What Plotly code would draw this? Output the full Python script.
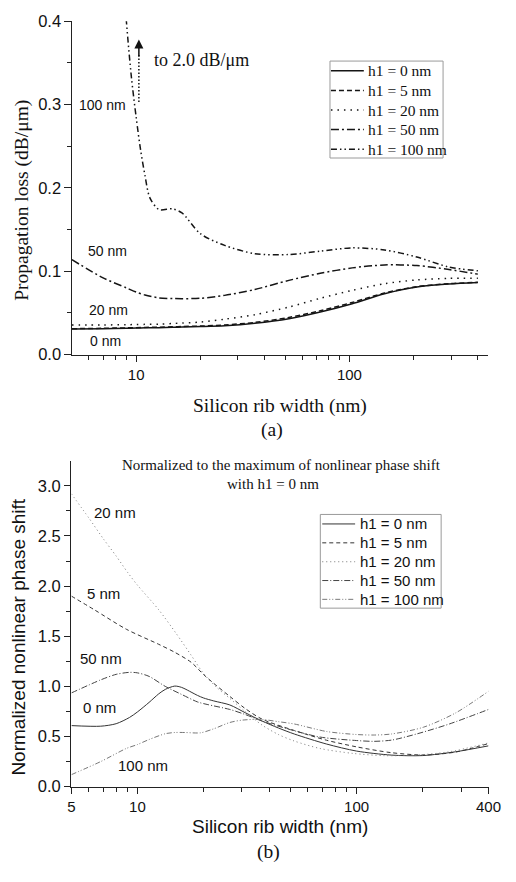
import math
import plotly.graph_objects as go

# page is 516x882 and the body has the default 8px margin -> figure placed at (8, 8)
PAGE_W, PAGE_H = 516, 882
OFF = 8
WF, HF = PAGE_W - OFF, PAGE_H - 2 * OFF   # figure may reach the right page edge
SERIF = "Liberation Serif"
SANS = "Liberation Sans"

# ---------------- (a) Propagation loss ----------------
NAMES = ["h1 = 0 nm", "h1 = 5 nm", "h1 = 20 nm", "h1 = 50 nm", "h1 = 100 nm"]

XA = [5, 7, 9, 10, 11, 12.8, 14.8, 16.4, 20, 26, 36, 52, 73, 103, 146, 207, 293, 400]
LOSS_0 = [0.0306, 0.031, 0.0315, 0.0318, 0.032, 0.0322, 0.0326, 0.033, 0.0335, 0.0345,
          0.0375, 0.043, 0.051, 0.061, 0.0729, 0.081, 0.0846, 0.0864]
LOSS_5 = [0.031, 0.0315, 0.032, 0.0322, 0.0325, 0.0328, 0.0332, 0.0336, 0.0342, 0.0355,
          0.0385, 0.0445, 0.0525, 0.0625, 0.0738, 0.0815, 0.085, 0.0866]
LOSS_20 = [0.0353, 0.0355, 0.0358, 0.036, 0.0362, 0.0365, 0.0372, 0.0378, 0.039, 0.0424,
           0.0478, 0.057, 0.0675, 0.077, 0.085, 0.0895, 0.0914, 0.0914]
LOSS_50 = [0.1138, 0.092, 0.080, 0.075, 0.0715, 0.068, 0.0672, 0.067, 0.0675, 0.071,
           0.078, 0.089, 0.0975, 0.104, 0.1075, 0.1068, 0.102, 0.0965]
XA_100 = [5, 6, 7, 8, 9, 9.5, 10, 10.5, 11, 11.6, 12.8, 14.8, 16.4, 20, 26, 36, 52, 73,
          103, 146, 207, 293, 400]
LOSS_100 = [2.0, 1.3, 0.85, 0.58, 0.40, 0.333, 0.285, 0.245, 0.215, 0.188, 0.174, 0.1748,
            0.170, 0.145, 0.131, 0.121, 0.120, 0.124, 0.128, 0.1255, 0.117, 0.105, 0.1005]

# ---------------- (b) Normalized nonlinear phase shift ----------------
XB_0 = [5, 6.8, 8, 9.2, 10, 11.3, 12.5, 13.4, 14.8, 15.9, 18.8, 20, 22.3, 26.4, 31.2, 37,
        44, 52, 73, 100, 144, 200, 283, 400]
PHASE_0 = [0.609, 0.603, 0.628, 0.69, 0.745, 0.84, 0.925, 0.97, 1.003, 0.99, 0.91, 0.885,
           0.855, 0.815, 0.735, 0.655, 0.585, 0.525, 0.425, 0.355, 0.315, 0.31, 0.348, 0.407]
XB_5 = [5, 6.35, 8.9, 12.5, 14.8, 17.6, 20, 22.3, 26.4, 31, 37, 52, 73, 100, 144, 202, 283, 400]
PHASE_5 = [1.90, 1.765, 1.57, 1.42, 1.34, 1.24, 1.12, 1.03, 0.90, 0.78, 0.674, 0.56, 0.463,
           0.397, 0.339, 0.316, 0.345, 0.43]
XB_20 = [5, 6, 7, 8, 9, 10, 12.5, 15, 17.6, 20, 23, 26.4, 31, 37, 44, 52, 68, 96, 134, 189,
         265, 400]
PHASE_20 = [2.92, 2.68, 2.47, 2.30, 2.14, 2.01, 1.765, 1.53, 1.31, 1.13, 0.99, 0.88, 0.75,
            0.615, 0.52, 0.455, 0.381, 0.332, 0.309, 0.316, 0.348, 0.436]
XB_50 = [5, 6.8, 8, 9.2, 10, 11.3, 13.4, 15.9, 18.8, 20.8, 26.4, 31, 37, 48.5, 68, 100, 120,
         145, 189, 265, 400]
PHASE_50 = [0.935, 1.065, 1.12, 1.14, 1.135, 1.10, 1.0, 0.92, 0.845, 0.82, 0.77, 0.72, 0.655,
            0.576, 0.495, 0.46, 0.452, 0.465, 0.527, 0.625, 0.77]
XB_100 = [5, 6.8, 8.9, 10, 11.3, 13.4, 14.8, 16.5, 19.4, 22.3, 26.4, 30.2, 37, 44, 52, 73,
          100, 121, 144, 202, 283, 400]
PHASE_100 = [0.12, 0.25, 0.381, 0.42, 0.47, 0.528, 0.54, 0.54, 0.537, 0.577, 0.64, 0.664,
             0.67, 0.648, 0.625, 0.55, 0.52, 0.515, 0.525, 0.593, 0.735, 0.951]

XTICKS_A = [10, 100]
XTICKS_B = [5, 10, 100, 400]
XMINOR = [6, 7, 8, 9, 20, 30, 40, 50, 60, 70, 80, 90, 200, 300, 400]
YTICKS_A = [0.0, 0.1, 0.2, 0.3, 0.4]
YMINOR_A = [0.05, 0.15, 0.25, 0.35]
YTICKS_B = [0.0, 0.5, 1.0, 1.5, 2.0, 2.5, 3.0]
YMINOR_B = [0.25, 0.75, 1.25, 1.75, 2.25, 2.75]

DASH_A = ["solid", "5px,3px", "1.5px,5px", "8px,3px,2px,3px", "6px,3px,1.5px,3px,1.5px,3px"]
DASH_B = ["solid", "4px,3px", "1px,3px", "6px,2px,1px,2px", "5px,2px,1px,2px,1px,2px"]
COL_A = "#151515"
COL_B = ["#333333", "#333333", "#777777", "#444444", "#777777"]


def px(x):
    """page pixel x -> paper fraction"""
    return (x - OFF) / WF


def py(y):
    """page pixel y (from top) -> paper fraction"""
    return 1 - (y - OFF) / HF


fig = go.Figure()

top_x = [XA, XA, XA, XA, XA_100]
top_y = [LOSS_0, LOSS_5, LOSS_20, LOSS_50, LOSS_100]
for i in range(5):
    fig.add_trace(go.Scatter(
        x=top_x[i], y=top_y[i], name=NAMES[i], mode="lines", showlegend=False,
        line=dict(color=COL_A, width=1.5, dash=DASH_A[i], shape="spline", smoothing=0.8),
        xaxis="x", yaxis="y"))

bot_x = [XB_0, XB_5, XB_20, XB_50, XB_100]
bot_y = [PHASE_0, PHASE_5, PHASE_20, PHASE_50, PHASE_100]
for i in range(5):
    fig.add_trace(go.Scatter(
        x=bot_x[i], y=bot_y[i], name=NAMES[i], mode="lines", showlegend=False,
        line=dict(color=COL_B[i], width=1, dash=DASH_B[i], shape="spline", smoothing=0.8),
        xaxis="x2", yaxis="y2"))

# dotted arrow shaft
ARROW_X = 10.3
fig.add_trace(go.Scatter(x=[ARROW_X, ARROW_X], y=[0.303, 0.362], mode="lines",
                         line=dict(color="#111", width=1.5, dash="1.5px,2px"),
                         showlegend=False, hoverinfo="skip", xaxis="x", yaxis="y"))

axis_common = dict(showline=True, linecolor="#222", linewidth=1, ticks="outside",
                   ticklen=6.5, tickwidth=1, tickcolor="#222", showgrid=False, zeroline=False,
                   ticklabeloverflow="allow")
xfont = dict(family=SANS, size=15, color="#111")
yfont = dict(family=SANS, size=16.5, color="#111")
minor_common = dict(tickmode="array", ticks="outside", ticklen=4, tickwidth=1, tickcolor="#222")

fig.update_layout(
    width=WF, height=HF, margin=dict(l=0, r=0, t=0, b=0),
    paper_bgcolor="white", plot_bgcolor="white", showlegend=False,
    xaxis=dict(axis_common, type="log", domain=[px(70), px(500)], tickfont=xfont,
               range=[math.log10(5), math.log10(444)], anchor="y",
               tickmode="array", tickvals=XTICKS_A, ticktext=[str(v) for v in XTICKS_A],
               minor=dict(minor_common, tickvals=XMINOR)),
    yaxis=dict(axis_common, domain=[py(352.7), py(12.3)], range=[0, 0.4], anchor="x",
               tickfont=yfont,
               tickmode="array", tickvals=YTICKS_A, ticktext=[f"{v:.1f}" for v in YTICKS_A],
               minor=dict(minor_common, tickvals=YMINOR_A)),
    xaxis2=dict(axis_common, type="log", domain=[px(69.5), px(501)], tickfont=xfont,
                range=[math.log10(5), math.log10(400)], anchor="y2",
                tickmode="array", tickvals=XTICKS_B, ticktext=[str(v) for v in XTICKS_B],
                minor=dict(minor_common, tickvals=XMINOR)),
    yaxis2=dict(axis_common, domain=[py(794), py(461.7)], range=[0, 3.245], anchor="x2",
                tickfont=yfont,
                tickmode="array", tickvals=YTICKS_B, ticktext=[f"{v:.1f}" for v in YTICKS_B],
                minor=dict(minor_common, tickvals=YMINOR_B)),
)

ann = []
shapes = []


def text(t, x, y, size, family, angle=0, xanchor="center", color="#111"):
    ann.append(dict(text=t, x=px(x), y=py(y), xref="paper", yref="paper", showarrow=False,
                    xanchor=xanchor, yanchor="middle", textangle=angle,
                    font=dict(family=family, size=size, color=color)))


def legend_box(x0, y0, x1, y1, rows, samp0, samp1, text_x, dashes, colors, width,
               family, size):
    shapes.append(dict(type="rect", xref="paper", yref="paper", x0=px(x0), x1=px(x1),
                       y0=py(y1), y1=py(y0), line=dict(color="#9a9a9a", width=1),
                       fillcolor="white", layer="above"))
    for i, ry in enumerate(rows):
        shapes.append(dict(type="line", xref="paper", yref="paper", x0=px(samp0),
                           x1=px(samp1), y0=py(ry), y1=py(ry), layer="above",
                           line=dict(color=colors[i], width=width, dash=dashes[i])))
        text(NAMES[i], text_x, ry, size, family, xanchor="left")


# (a)
text("Propagation loss (dB/μm)", 18, 195, 19.5, SERIF, angle=-90)
text("Silicon rib width (nm)", 285, 405, 19.5, SERIF)
text("(a)", 277, 430, 19.5, SERIF)
text("to 2.0 dB/μm", 153, 52, 18, SERIF, xanchor="left")
text("100 nm", 102, 98, 14, SANS)
text("50 nm", 107, 247, 14, SANS)
text("20 nm", 108, 307, 14, SANS)
text("0 nm", 105, 339, 14, SANS)
legend_box(337, 53, 454, 152, [63, 83, 103, 123, 143], 338, 372, 374,
           DASH_A, [COL_A] * 5, 1.5, SERIF, 15.5)
# (b)
text("Normalized to the maximum of nonlinear phase shift", 287, 465, 15, SERIF)
text("with h1 = 0 nm", 278, 485, 15, SERIF)
text("Normalized nonlinear phase shift", 15, 641, 19, SANS, angle=-90)
text("Silicon rib width (nm)", 285, 835, 19, SANS)
text("(b)", 273, 861, 19.5, SERIF)
text("20 nm", 115, 514, 15, SANS)
text("5 nm", 103, 597, 15, SANS)
text("50 nm", 100, 663, 15, SANS)
text("0 nm", 99, 713, 15, SANS)
text("100 nm", 144, 772, 15, SANS)
legend_box(327, 516, 452, 611.7, [525.7, 545, 564.3, 583.5, 602.7], 329, 363, 366,
           DASH_B, COL_B, 1, SANS, 15)

# arrow head
ann.append(dict(x=math.log10(ARROW_X), y=0.378, ax=math.log10(ARROW_X), ay=0.356,
                xref="x", yref="y", axref="x", ayref="y", showarrow=True, text="",
                arrowhead=2, arrowsize=1.2, arrowwidth=1.5, arrowcolor="#111"))

fig.update_layout(annotations=ann, shapes=shapes)
fig.write_html("out.html")
